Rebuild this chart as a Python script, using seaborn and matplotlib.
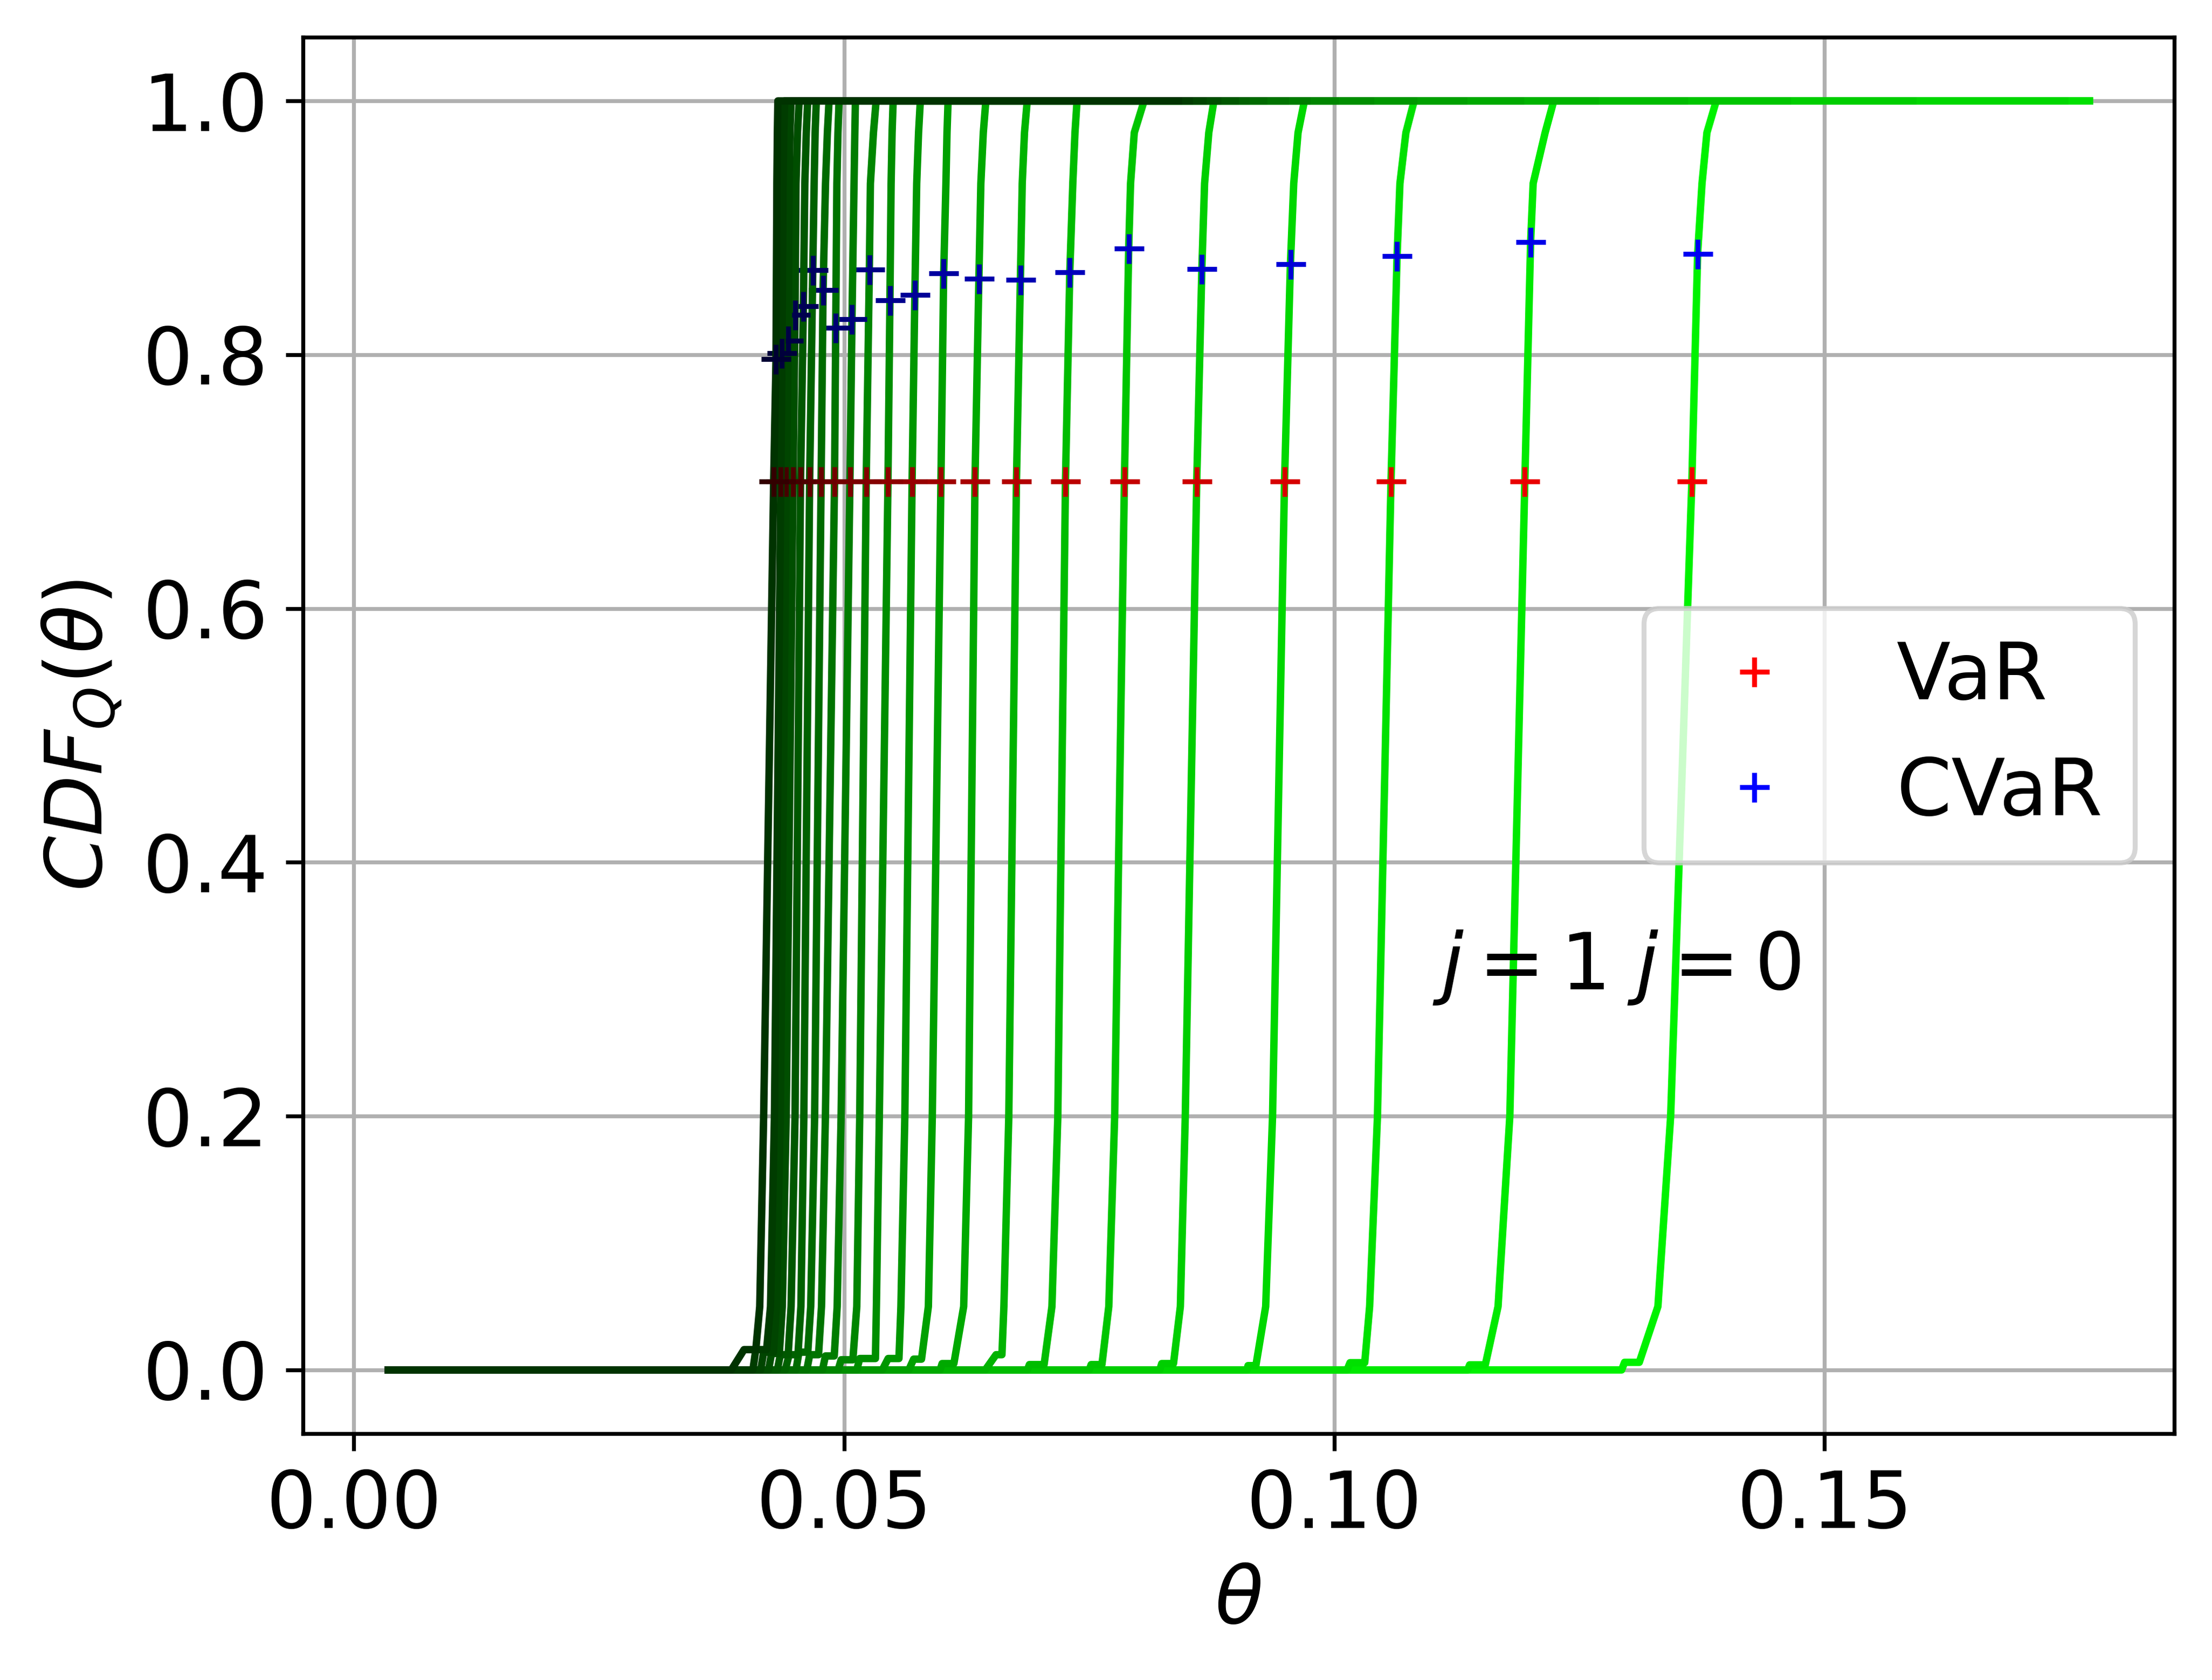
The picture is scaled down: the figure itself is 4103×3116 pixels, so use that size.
import numpy as np
import matplotlib
matplotlib.use('Agg')
import matplotlib.pyplot as plt
from matplotlib.lines import Line2D
import seaborn as sns

# Values, one entry per CDF curve (j = 0 .. 21, dark -> bright)
var_level = 0.7
var_x = [0.04282, 0.04355, 0.04411, 0.04480, 0.04556, 0.04649, 0.04766, 0.04903,
         0.05060, 0.05226, 0.05448, 0.05694, 0.05988, 0.06335, 0.06758, 0.07258,
         0.07859, 0.08597, 0.09492, 0.10578, 0.11943, 0.13646]
cvar_x = [0.04306, 0.04367, 0.04431, 0.04500, 0.04585, 0.04681, 0.04786, 0.04915,
          0.05081, 0.05258, 0.05468, 0.05722, 0.06016, 0.06375, 0.06798, 0.07302,
          0.07903, 0.08649, 0.09552, 0.10640, 0.12002, 0.13705]
cvar_y = [0.7966, 0.8012, 0.8110, 0.8314, 0.8382, 0.8666, 0.8508, 0.8212,
          0.8279, 0.8671, 0.8428, 0.8471, 0.8641, 0.8598, 0.8590, 0.8648,
          0.8836, 0.8675, 0.8714, 0.8778, 0.8889, 0.8795]

# shape of each CDF: x where it leaves 0, small plateau, then x at given levels
theta_lo = 0.0035
foot_x = [0.0385, 0.0407, 0.0415, 0.0423, 0.0432, 0.0440, 0.0451, 0.0462,
          0.0478, 0.0494, 0.0513, 0.0539, 0.0566, 0.0598, 0.0644, 0.0687,
          0.0750, 0.0822, 0.0911, 0.1013, 0.1136, 0.1293]
step_y = [0.016, 0.016, 0.014, 0.013, 0.012, 0.012, 0.014, 0.012,
          0.011, 0.008, 0.009, 0.009, 0.0085, 0.005, 0.012, 0.0042,
          0.0042, 0.005, 0.0034, 0.0057, 0.004, 0.006]
step_x0 = [0.0398, 0.0410, 0.0418, 0.0426, 0.0435, 0.0444, 0.0454, 0.0465,
           0.0481, 0.0497, 0.0516, 0.0545, 0.0571, 0.0600, 0.0655, 0.0689,
           0.0752, 0.0824, 0.0912, 0.1016, 0.1138, 0.1296]
step_x1 = [0.0410, 0.0421, 0.0428, 0.0434, 0.0443, 0.0453, 0.0463, 0.0474,
           0.0490, 0.0509, 0.0532, 0.0556, 0.0579, 0.0612, 0.0661, 0.0704,
           0.0763, 0.0836, 0.0920, 0.1031, 0.1154, 0.1311]
x05 = [0.0414, 0.0425, 0.0431, 0.0437, 0.0446, 0.0456, 0.0466, 0.0477,
       0.0493, 0.0513, 0.0533, 0.0558, 0.0586, 0.0622, 0.0663, 0.0712,
       0.0770, 0.0843, 0.0930, 0.1036, 0.1167, 0.1330]
x20 = [0.0418, 0.0429, 0.0435, 0.0441, 0.0450, 0.0459, 0.0470, 0.0481,
       0.0497, 0.0516, 0.0536, 0.0562, 0.0590, 0.0627, 0.0668, 0.0718,
       0.0776, 0.0848, 0.0937, 0.1044, 0.1179, 0.1343]
x93 = [0.04315, 0.04378, 0.04440, 0.04510, 0.04600, 0.04695, 0.04811, 0.04927,
       0.05102, 0.05269, 0.05480, 0.05741, 0.06039, 0.06395, 0.06817, 0.07333,
       0.07922, 0.08677, 0.09586, 0.10669, 0.12028, 0.13750]
x97 = [0.04320, 0.04385, 0.04448, 0.04525, 0.04615, 0.04705, 0.04830, 0.04938,
       0.05110, 0.05300, 0.05490, 0.05760, 0.06050, 0.06420, 0.06840, 0.07355,
       0.07960, 0.08720, 0.09630, 0.10730, 0.12150, 0.13800]
top_x = [0.04325, 0.04395, 0.04460, 0.04542, 0.04629, 0.04717, 0.04847, 0.04949,
         0.05116, 0.05327, 0.05501, 0.05778, 0.06061, 0.06446, 0.06868, 0.07376,
         0.08060, 0.08772, 0.09695, 0.10814, 0.12238, 0.13895]
hi_x = [0.0841, 0.0852, 0.0866, 0.0881, 0.0899, 0.0910, 0.0928, 0.0950,
        0.0972, 0.1001, 0.1037, 0.1081, 0.1132, 0.1190, 0.1266, 0.1357,
        0.1462, 0.1590, 0.1745, 0.1770, 0.1770, 0.1770]

n = len(var_x)
shade = np.linspace(0.2, 0.95, n)

plt.rcParams['font.size'] = 16
fig = plt.figure(figsize=(4103 / 660, 3116 / 660))
ax = fig.add_axes([0.137, 0.1468, 0.846, 0.8309])

# brightest first, darkest on top
for i in range(n - 1, -1, -1):
    xs = [theta_lo, foot_x[i], step_x0[i], step_x1[i], x05[i], x20[i], var_x[i],
          cvar_x[i], x93[i], x97[i], top_x[i], hi_x[i]]
    ys = [0, 0, step_y[i], step_y[i], 0.05, 0.2, var_level,
          cvar_y[i], 0.935, 0.975, 1.0, 1.0]
    sns.lineplot(x=xs, y=ys, sort=False, estimator=None, color=(0, shade[i], 0),
                 linewidth=1.5, ax=ax)
    sns.scatterplot(x=[var_x[i]], y=[var_level], marker='+', s=36, linewidth=1.0,
                    color=(shade[i], 0, 0), zorder=2, ax=ax)
    sns.scatterplot(x=[cvar_x[i]], y=[cvar_y[i]], marker='+', s=36, linewidth=1.0,
                    color=(0, 0, shade[i]), zorder=2, ax=ax)

ax.text(0.110, 0.30, r'$j=1$ $j=0$')
ax.grid(True)
ax.set_xlabel(r'$\theta$')
ax.set_ylabel(r'$CDF_Q(\theta)$')

handles = [Line2D([], [], marker='+', color='red', linestyle='None', label='VaR'),
           Line2D([], [], marker='+', color='blue', linestyle='None', label='CVaR')]
ax.legend(handles=handles, loc='center right')

fig.savefig('out.png', dpi=660)
